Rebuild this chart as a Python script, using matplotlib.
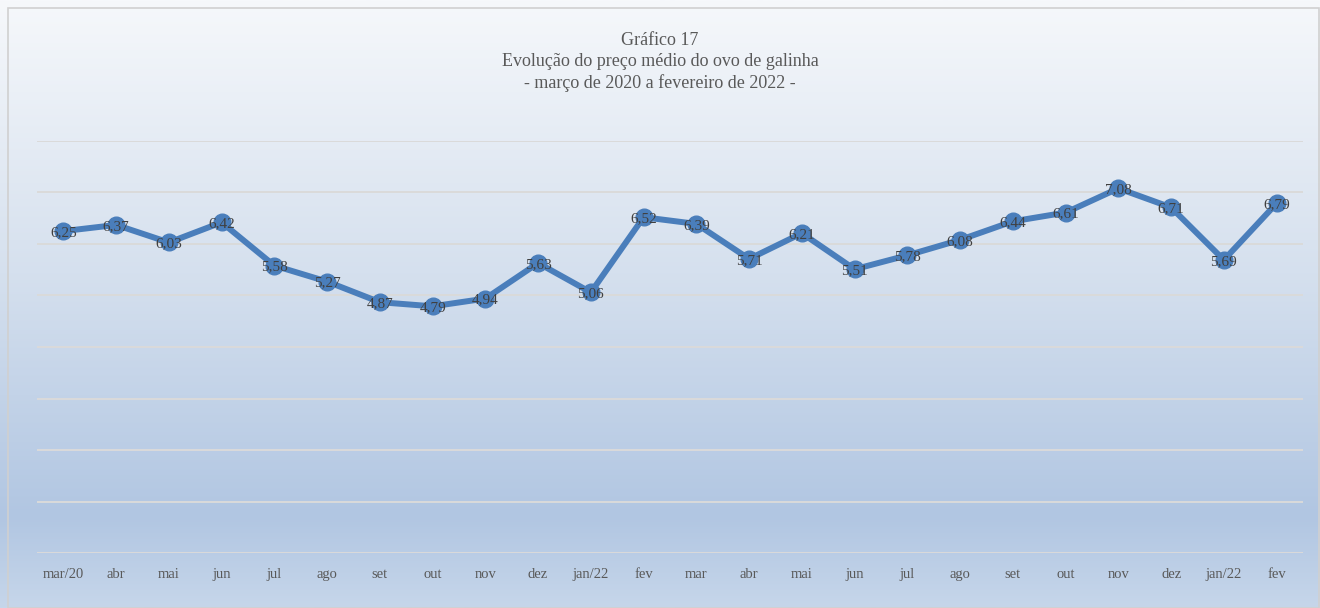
import numpy as np
import matplotlib.pyplot as plt
from matplotlib.colors import LinearSegmentedColormap
from matplotlib.patches import Rectangle

# data
meses = ['mar/20', 'abr', 'mai', 'jun', 'jul', 'ago', 'set', 'out', 'nov', 'dez',
         'jan/22', 'fev', 'mar', 'abr', 'mai', 'jun', 'jul', 'ago', 'set', 'out',
         'nov', 'dez', 'jan/22', 'fev']
precos = [6.25, 6.37, 6.03, 6.42, 5.58, 5.27, 4.87, 4.79, 4.94, 5.63,
          5.06, 6.52, 6.39, 5.71, 6.21, 5.51, 5.78, 6.08, 6.44, 6.61,
          7.08, 6.71, 5.69, 6.79]
titulo = 'Gráfico 17\nEvolução do preço médio do ovo de galinha\n- março de 2020 a fevereiro de 2022 -'

plt.rcParams['font.family'] = ['Liberation Serif', 'DejaVu Serif']

fig = plt.figure(figsize=(13.2, 6.08), dpi=100)

# gradient background
bg = fig.add_axes([0, 0, 1, 1], zorder=0)
cmap = LinearSegmentedColormap.from_list('bg', [
    (0.0, '#f6f8fb'), (0.45, '#d5e0ee'), (0.85, '#b1c6e2'), (1.0, '#c6d6ea')])
grad = np.linspace(0, 1, 256).reshape(-1, 1)
bg.imshow(grad, aspect='auto', cmap=cmap, extent=[0, 1, 1, 0])
bg.set_xlim(0, 1)
bg.set_ylim(1, 0)
bg.axis('off')
fig.patches.append(Rectangle((8 / 1320, 0), 1311 / 1320, 600 / 608, transform=fig.transFigure,
                             fill=False, edgecolor='#d0d0d0', linewidth=1.2))

ax = fig.add_axes([37 / 1320, 55 / 608, 1266 / 1320, 412 / 608], zorder=1)
ax.patch.set_alpha(0)
x = np.arange(len(meses))
ax.plot(x, precos, color='#4a7ebb', linewidth=4.3, marker='o', markersize=12,
        solid_joinstyle='round', zorder=3)
for xi, v in zip(x, precos):
    ax.text(xi, v - 0.03, f'{v:.2f}'.replace('.', ','), ha='center', va='center',
            fontsize=11, color='#404040', zorder=4)

ax.set_xlim(-0.5, len(meses) - 0.5)
ax.set_ylim(0, 8)
ax.set_yticks(np.arange(0, 9, 1))
ax.yaxis.grid(True, color='#dadada', linewidth=1.4)
ax.set_axisbelow(True)
ax.tick_params(axis='y', left=False, labelleft=False)
ax.set_xticks(x)
ax.set_xticklabels(meses, fontsize=10.5, color='#595959')
ax.tick_params(axis='x', length=0, pad=11)
for s in ax.spines.values():
    s.set_visible(False)

fig.text(0.5, 0.948, titulo, ha='center', va='top', fontsize=13, color='#595959',
         linespacing=1.3)

fig.savefig('out.png', dpi=100)
